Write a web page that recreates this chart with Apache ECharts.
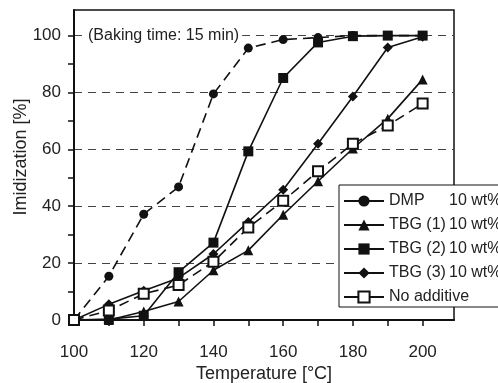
<!DOCTYPE html>
<html>
<head>
<meta charset="utf-8">
<script src="https://cdn.jsdelivr.net/npm/echarts@6/dist/echarts.min.js"></script>
<style>
    html, body { margin: 0; padding: 0; background: #fff; }
    #chart { width: 498px; height: 383px; }
</style>
</head>
<body>
<div id="chart"></div>
<script>
(function(){
    // data
    var temps = [100, 110, 120, 130, 140, 150, 160, 170, 180, 190, 200];
    var dmp = [0, 15.4, 37.2, 46.8, 79.5, 95.6, 98.6, 99.3, 100, 100, 100];
    var tbg1 = [0, 0, 3, 6.5, 17.5, 24.5, 37, 48.8, 60.3, 70.8, 84.6];
    var tbg2 = [0, 0.3, 1.5, 16.8, 27.2, 59.3, 85.1, 97.6, 99.8, 100, 100];
    var tbg3 = [0, 5.5, 10.3, 14.8, 23.2, 34.5, 45.8, 62, 78.6, 95.8, 99.6];
    var noAdd = [0, 3.3, 9.2, 12.3, 20.5, 32.5, 41.9, 52.3, 62, 68.4, 76.1];
    var names = ['DMP', 'TBG (1)', 'TBG (2)', 'TBG (3)', 'No additive'];
    var suffix = {'DMP': '10 wt%', 'TBG (1)': '10 wt%', 'TBG (2)': '10 wt%', 'TBG (3)': '10 wt%', 'No additive': ''};

    var font = 'Liberation Sans, Arial, sans-serif';

    function pairs(ys) {
        return temps.map(function(t, i) { return [t, ys[i]]; });
    }

    function line(name, ys, symbol, size, dashed) {
        return {
            name: name,
            type: 'line',
            data: pairs(ys),
            symbol: symbol,
            symbolSize: size,
            showAllSymbol: true,
            clip: false,
            lineStyle: { color: '#111', width: 1.6, type: dashed ? [10, 6] : 'solid' },
            itemStyle: { color: '#111', borderColor: '#111', borderWidth: symbol === 'emptyRect' ? 1.2 : 0 },
            emphasis: { disabled: true },
            animation: false
        };
    }

    var dom = document.getElementById('chart');
    var myChart = echarts.init(dom);
    var option = {
        backgroundColor: '#fff',
        textStyle: { fontFamily: font },
        title: {
            text: '(Baking time: 15 min)',
            left: 85,
            top: 26,
            padding: [2, 3],
            backgroundColor: '#fff',
            textStyle: { fontFamily: font, fontSize: 16, fontWeight: 'normal', color: '#222' }
        },
        grid: {
            left: 74, right: 44, top: 10, bottom: 63,
            containLabel: false,
            outerBoundsMode: 'none',
            show: true, borderColor: '#111', borderWidth: 1.5, backgroundColor: 'transparent'
        },
        legend: {
            data: names,
            orient: 'vertical',
            left: 339,
            top: 185,
            padding: [8, 60, 2, 4],
            itemWidth: 40,
            itemHeight: 14,
            itemGap: 8,
            backgroundColor: '#fff',
            borderColor: '#111',
            borderWidth: 1,
            lineStyle: { type: 'solid' },
            formatter: function(name) {
                return '{n|' + name + '}{w|' + suffix[name] + '}';
            },
            textStyle: {
                fontFamily: font, fontSize: 16, color: '#222', lineHeight: 14,
                rich: {
                    n: { width: 60, fontSize: 16, lineHeight: 14, fontFamily: font, color: '#222' },
                    w: { fontSize: 16, lineHeight: 14, fontFamily: font, color: '#222' }
                }
            }
        },
        xAxis: {
            type: 'value',
            min: 100, max: 209, interval: 10,
            name: 'Temperature [°C]',
            nameLocation: 'middle',
            nameGap: 45,
            nameMoveOverlap: false,
            nameTextStyle: { fontFamily: font, fontSize: 18, color: '#222' },
            axisLine: { lineStyle: { color: '#111', width: 2 } },
            axisTick: { length: 6, lineStyle: { color: '#111', width: 1.5 } },
            axisLabel: {
                margin: 24, fontSize: 17, color: '#222', showMaxLabel: false,
                formatter: function(v) { return v % 20 === 0 ? String(v) : ''; }
            },
            splitLine: { show: false }
        },
        yAxis: {
            type: 'value',
            min: 0, max: 109, interval: 10,
            name: 'Imidization [%]',
            nameLocation: 'middle',
            nameGap: 44,
            nameMoveOverlap: false,
            nameTextStyle: { fontFamily: font, fontSize: 18, color: '#222', padding: [0, 0, 0, 16] },
            axisLine: { show: true, lineStyle: { color: '#111', width: 2 } },
            axisTick: { show: true, length: 6, lineStyle: { color: '#111', width: 1.5 } },
            axisLabel: {
                margin: 13, fontSize: 17, color: '#222', showMaxLabel: false,
                formatter: function(v) { return v % 20 === 0 ? String(v) : ''; }
            },
            splitLine: { show: true, lineStyle: { color: ['#444', 'rgba(0,0,0,0)'], type: [8, 6], width: 1 } }
        },
        series: [
            line('DMP', dmp, 'circle', 9, true),
            line('TBG (1)', tbg1, 'triangle', 10, false),
            line('TBG (3)', tbg3, 'diamond', 10, false),
            line('TBG (2)', tbg2, 'rect', 10, false),
            line('No additive', noAdd, 'emptyRect', 10, true)
        ]
    };
    myChart.setOption(option, true);
})();
</script>
</body>
</html>
